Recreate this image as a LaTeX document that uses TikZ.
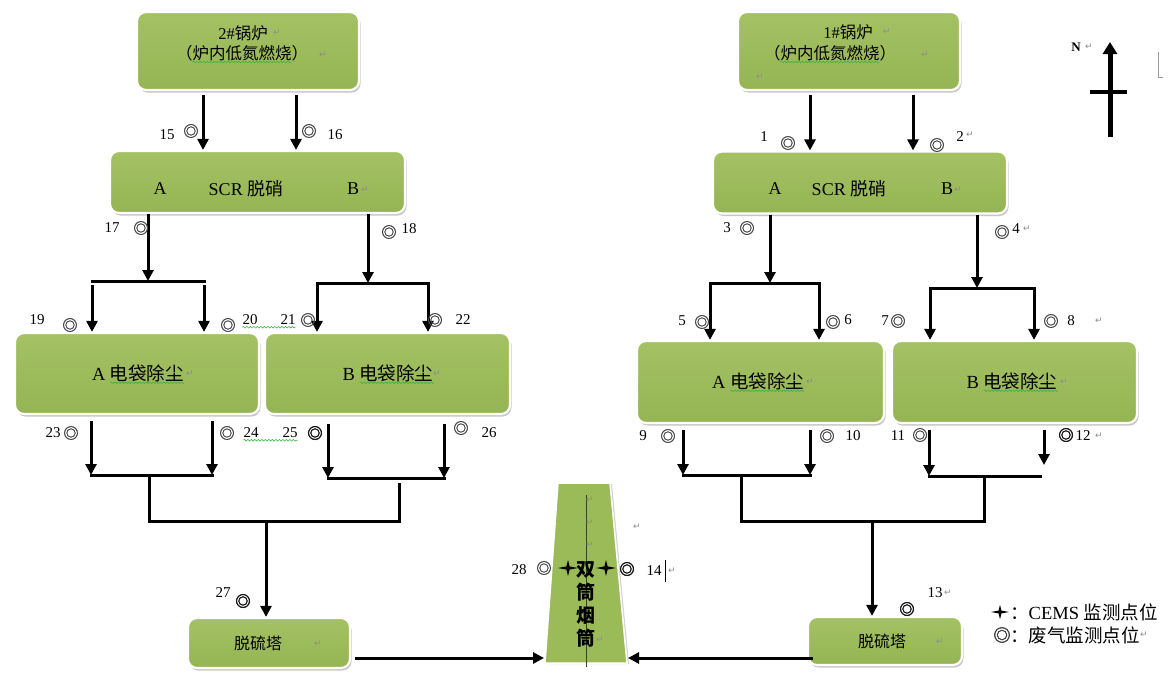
\documentclass[tikz,border=0pt]{standalone}
\usepackage{fontspec}
\setmainfont{Liberation Serif}
\newfontfamily\cjk{Noto Sans CJK SC}
\newfontfamily\monf[FakeBold=2.5]{Noto Sans CJK SC}
\newfontfamily\monfb[FakeBold=4]{Noto Sans CJK SC}
\newfontfamily\dv{DejaVu Sans}
\usetikzlibrary{arrows.meta,shadows,decorations.pathmorphing}
\definecolor{gtop}{HTML}{A4C264}
\definecolor{gbot}{HTML}{95B453}
\definecolor{gfill}{HTML}{9BBB59}
\definecolor{cline}{HTML}{2F4A14}
\definecolor{wavy}{HTML}{3CB43C}
\newcommand{\fs}[1]{\fontsize{#1}{#1}\selectfont}
\tikzset{
  gbox/.style={rectangle, rounded corners=9pt, top color=gtop, bottom color=gbot, draw=white, line width=2.2pt, drop shadow={shadow xshift=1.5pt, shadow yshift=-2.5pt, opacity=0.4, fill=black!55}, inner sep=0pt},
  txt/.style={inner sep=0pt, font=\fs{18}},
  num/.style={inner sep=0pt, font=\fs{15}},
  mon/.style={inner sep=0pt, font=\monf\fs{15}, text=black!70},
  monb/.style={inner sep=0pt, font=\monfb\fs{15}, text=black!90},
  ret/.style={inner sep=0pt, font=\dv\fs{9}, text=black!45},
  arr/.style={line width=3pt, -{Triangle[length=11pt,width=11pt]}},
  arrb/.style={line width=3pt, line join=miter, {Triangle[length=11pt,width=11pt]}-{Triangle[length=11pt,width=11pt]}},
  pipe/.style={line width=3pt, line join=miter},
  wav/.style={draw=wavy, line width=0.6pt, decorate, decoration={snake, amplitude=0.8pt, segment length=3.5pt}},
  pics/cems/.style={code={\fill[black] (-10,0) -- (-1.6,-1.6) -- (0,-8) -- (1.6,-1.6) -- (10,0) -- (1.6,1.6) -- (0,8) -- (-1.6,1.6) -- cycle;}},
}
\begin{document}
\begin{tikzpicture}[x=1pt,y=-1pt]
\fill[white] (0,0) rectangle (1173,675);
\useasboundingbox (0,0) rectangle (1173,675);

% ---------- boxes ----------
\node[gbox, minimum width=222, minimum height=78] (boil2) at (248,51) {};
\node[gbox, minimum width=222, minimum height=78] (boil1) at (849,51) {};
\node[gbox, minimum width=295, minimum height=62] (scr2) at (257.5,182) {};
\node[gbox, minimum width=294, minimum height=62] (scr1) at (860,182.5) {};
\node[gbox, minimum width=244, minimum height=81] (fA2) at (137,373.5) {};
\node[gbox, minimum width=245, minimum height=81] (fB2) at (387.5,373.5) {};
\node[gbox, minimum width=247, minimum height=82] (fA1) at (760.5,382) {};
\node[gbox, minimum width=245, minimum height=82] (fB1) at (1014.5,382) {};
\node[gbox, minimum width=162, minimum height=50] (dsL) at (269,643) {};
\node[gbox, minimum width=154, minimum height=48] (dsR) at (885,641) {};

% ---------- box texts ----------
\node[txt, font=\fs{16.5}] (t2a) at (243,33) {2\#{\cjk 锅炉}};
\node[txt, font=\cjk\fs{16.5}] (t2b) at (242,53) {（炉内低氮燃烧）};
\node[txt, font=\fs{16.5}] (t1a) at (848,32) {1\#{\cjk 锅炉}};
\node[txt, font=\cjk\fs{16.5}] (t1b) at (830,53) {（炉内低氮燃烧）};
\node[txt] (s2A) at (160,189) {A};
\node[txt] (s2S) at (246,189) {SCR {\cjk 脱硝}};
\node[txt] (s2B) at (353,189) {B};
\node[txt] (s1A) at (775,189) {A};
\node[txt] (s1S) at (849,189) {SCR {\cjk 脱硝}};
\node[txt] (s1B) at (947,189) {B};
\node[txt, font=\fs{18.5}] (fa2t) at (138,373) {A {\cjk 电袋除尘}};
\node[txt, font=\fs{18.5}] (fb2t) at (388,373) {B {\cjk 电袋除尘}};
\node[txt, font=\fs{18.5}] (fa1t) at (758,381) {A {\cjk 电袋除尘}};
\node[txt, font=\fs{18.5}] (fb1t) at (1012,381) {B {\cjk 电袋除尘}};
\node[txt, font=\cjk\fs{16}] (dsLt) at (258,643) {脱硫塔};
\node[txt, font=\cjk\fs{16}] (dsRt) at (882,641) {脱硫塔};

% wavy spell-check underlines
\draw[wav] ([xshift=16.5pt,yshift=-1pt]t2b.south west) -- ([xshift=-16.5pt,yshift=-1pt]t2b.south east);
\draw[wav] ([xshift=16.5pt,yshift=-1pt]t1b.south west) -- ([xshift=-16.5pt,yshift=-1pt]t1b.south east);
\draw[wav] ([xshift=-74pt,yshift=-1pt]fa2t.south east) -- ([yshift=-1pt]fa2t.south east);
\draw[wav] ([xshift=-74pt,yshift=-1pt]fb2t.south east) -- ([yshift=-1pt]fb2t.south east);
\draw[wav] ([xshift=-74pt,yshift=-1pt]fa1t.south east) -- ([yshift=-1pt]fa1t.south east);
\draw[wav] ([xshift=-74pt,yshift=-1pt]fb1t.south east) -- ([yshift=-1pt]fb1t.south east);

% ---------- chimney ----------
\fill[gfill, draw=white, line width=1.5pt, drop shadow={shadow xshift=2pt, shadow yshift=-1pt, opacity=0.35, fill=black!50}] (558,483) -- (610,483) -- (627,663) -- (545,663) -- cycle;
\draw[cline, line width=1pt] (586,495) -- (586,667);
\node[inner sep=0pt, align=center, font=\cjk\bfseries\fontsize{19}{23}\selectfont] (chim) at (586,604) {双\\筒\\烟\\筒};
\pic at (568,568) {cems};
\pic at (606,568) {cems};

% ---------- connectors: top ----------
\coordinate (c203) at (203,0); \coordinate (c296) at (296,0);
\coordinate (c810) at (810,0); \coordinate (c913) at (913,0);
\draw[arr, shorten <=4pt] (boil2.south -| c203) -- (scr2.north -| c203);
\draw[arr, shorten <=4pt] (boil2.south -| c296) -- (scr2.north -| c296);
\draw[arr, shorten <=4pt] (boil1.south -| c810) -- (scr1.north -| c810);
\draw[arr, shorten <=4pt] (boil1.south -| c913) -- (scr1.north -| c913);

% left SCR to filters
\coordinate (k148) at (148,281); \coordinate (k92) at (92,281); \coordinate (k204) at (204,281);
\draw[arr] (scr2.south -| k148) -- (k148);
\draw[pipe, line cap=rect] (k92) -- (k204);
\draw[arr, shorten <=4pt] (k92) -- (fA2.north -| k92);
\draw[arr, shorten <=4pt] (k204) -- (fA2.north -| k204);
\coordinate (k368) at (368,283); \coordinate (k317) at (317,283); \coordinate (k428) at (428,283);
\draw[arr] (scr2.south -| k368) -- (k368);
\draw[arrb] (fB2.north -| k317) -- (k317) -- (k428) -- (fB2.north -| k428);

% right SCR to filters
\coordinate (k770) at (770,283); \coordinate (k710) at (710,283); \coordinate (k819) at (819,283);
\draw[arr] (scr1.south -| k770) -- (k770);
\draw[arrb] (fA1.north -| k710) -- (k710) -- (k819) -- (fA1.north -| k819);
\coordinate (k977) at (977,288); \coordinate (k930) at (930,288); \coordinate (k1034) at (1034,288);
\draw[arr] (scr1.south -| k977) -- (k977);
\draw[arrb] (fB1.north -| k930) -- (k930) -- (k1034) -- (fB1.north -| k1034);

% bottom left
\coordinate (q90) at (91,475); \coordinate (q212) at (212,475);
\draw[arr, shorten <=6pt] (fA2.south -| q90) -- (q90);
\draw[arr, shorten <=6pt] (fA2.south -| q212) -- (q212);
\draw[pipe, line cap=rect] (q90) -- (q212);
\coordinate (q328) at (328,478); \coordinate (q444) at (444,478);
\draw[arr, shorten <=9pt] (fB2.south -| q328) -- (q328);
\draw[arr, shorten <=9pt] (fB2.south -| q444) -- (q444);
\draw[pipe, line cap=rect] (q328) -- (q444);
\coordinate (u149) at (149,475); \coordinate (v149) at (149,521);
\coordinate (v399) at (399,521); \coordinate (u399) at (399,483);
\draw[pipe] (u149) -- (v149) -- (v399) -- (u399);
\coordinate (v266) at (266,521);
\draw[arr] (v266) -- (dsL.north -| v266);

% bottom right
\coordinate (q683) at (683,475); \coordinate (q810) at (810,475);
\draw[arr, shorten <=6pt] (fA1.south -| q683) -- (q683);
\draw[arr, shorten <=6pt] (fA1.south -| q810) -- (q810);
\draw[pipe, line cap=rect] (q683) -- (q810);
\coordinate (q929) at (929,476); \coordinate (q1040) at (1040,476); \coordinate (q1044) at (1044,465);
\draw[arr, shorten <=6pt] (fB1.south -| q929) -- (q929);
\draw[arr, shorten <=6pt] (fB1.south -| q1044) -- (q1044);
\draw[pipe, line cap=rect] (q929) -- (q1040);
\coordinate (u741) at (741,475); \coordinate (v741) at (741,521);
\coordinate (v984) at (984,521); \coordinate (u984) at (984,476);
\draw[pipe] (u741) -- (v741) -- (v984) -- (u984);
\coordinate (v872) at (872,521);
\draw[arr] (v872) -- (dsR.north -| v872);

% into chimney
\coordinate (chimL) at (544,658); \coordinate (chimR) at (628,658);
\draw[arr, shorten <=4pt] (dsL.east |- chimL) -- (chimL);
\draw[arr, shorten <=-6pt] (dsR.west |- chimR) -- (chimR);

% ---------- monitoring labels ----------
\node[num] (n15) at (167,135) {15}; \node[mon] (m15) at (191,131) {◎};
\node[mon] (m16) at (309,131) {◎}; \node[num] (n16) at (335,135) {16};
\node[num] (n17) at (112,228) {17}; \node[mon] (m17) at (141,228) {◎};
\node[mon] (m18) at (389,232) {◎}; \node[num] (n18) at (409,229) {18};
\node[num] (n19) at (37,320) {19}; \node[mon] (m19) at (70,325) {◎};
\node[mon] (m20) at (228,325) {◎}; \node[num] (n20) at (250,320) {20};
\node[num] (n21) at (288,320) {21}; \node[mon] (m21) at (308,320) {◎};
\node[mon] (m22) at (435,320) {◎}; \node[num] (n22) at (463,320) {22};
\node[num] (n23) at (53,433) {23}; \node[mon] (m23) at (71,433) {◎};
\node[mon] (m24) at (227,433) {◎}; \node[num] (n24) at (251,433) {24};
\node[num] (n25) at (290,433) {25}; \node[monb] (m25) at (315,433) {◎};
\node[mon] (m26) at (461,428) {◎}; \node[num] (n26) at (489,433) {26};
\node[num] (n27) at (223,593) {27}; \node[monb] (m27) at (243,601) {◎};
\node[num] (n28) at (519,570) {28}; \node[mon] (m28) at (544,568) {◎};
\node[monb] (m14) at (627,569) {◎}; \node[num] (n14) at (654,571) {14};
\draw[wav] ([yshift=-2pt]n20.south west) -- ([yshift=-2pt]n21.south east);
\draw[wav] ([yshift=-2pt]n24.south west) -- ([yshift=-2pt]n25.south east);

\node[num] (n1) at (764,137) {1}; \node[mon] (m1) at (788,143) {◎};
\node[mon] (m2) at (937,145) {◎}; \node[num] (n2) at (960,137) {2};
\node[num] (n3) at (727,228) {3}; \node[mon] (m3) at (747,228) {◎};
\node[mon] (m4) at (1002,232) {◎}; \node[num] (n4) at (1016,229) {4};
\node[num] (n5) at (682,321) {5}; \node[mon] (m5) at (702,322) {◎};
\node[mon] (m6) at (833,322) {◎}; \node[num] (n6) at (848,320) {6};
\node[num] (n7) at (885,321) {7}; \node[mon] (m7) at (898,321) {◎};
\node[mon] (m8) at (1051,321) {◎}; \node[num] (n8) at (1071,321) {8};
\node[num] (n9) at (643,436) {9}; \node[mon] (m9) at (668,436) {◎};
\node[mon] (m10) at (827,436) {◎}; \node[num] (n10) at (853,436) {10};
\node[num] (n11) at (898,436) {11}; \node[mon] (m11) at (920,435) {◎};
\node[monb] (m12) at (1066,435) {◎}; \node[num] (n12) at (1083,436) {12};
\node[num] (n13) at (935,593) {13}; \node[monb] (m13) at (907,609) {◎};

% ---------- paragraph marks ----------
\node[ret] at (277,33) {↵}; \node[ret] at (323,55) {↵};
\node[ret] at (887,32) {↵}; \node[ret] at (925,55) {↵}; \node[ret] at (760,77) {↵};
\node[ret] at (365,190) {↵}; \node[ret] at (958,190) {↵};
\node[ret] at (190,374) {↵}; \node[ret] at (437,374) {↵};
\node[ret] at (810,382) {↵}; \node[ret] at (1064,382) {↵};
\node[ret] at (318,644) {↵}; \node[ret] at (940,642) {↵};
\node[ret] at (970,135) {↵}; \node[ret] at (1027,229) {↵};
\node[ret] at (1099,321) {↵}; \node[ret] at (1099,436) {↵};
\node[ret] at (948,593) {↵}; \node[ret] at (672,571) {↵};
\node[ret] at (590,500) {↵}; \node[ret] at (590,523) {↵}; \node[ret] at (590,545) {↵};
\node[ret] at (637,527) {↵}; \node[ret] at (600,640) {↵};
\draw[black, line width=0.8pt] (665,560) -- (665,582);

% ---------- north arrow ----------
\coordinate (nS) at (1110,137); \coordinate (nN) at (1110,42);
\draw[line width=5pt, -{Triangle[length=12pt,width=14pt]}] (nS) -- (nN);
\coordinate (nW) at (1090,92); \coordinate (nE) at (1127,92);
\draw[line width=4pt] (nW) -- (nE);
\node[num, font=\bfseries\fs{13}] (nlab) at (1076,47) {N};
\node[ret] at (1089,47) {↵};
\draw[black!40, line width=0.6pt] (1158,52) -- (1158,77) -- (1163,77);

% ---------- legend ----------
\pic[scale=0.9] at (1000,612) {cems};
\node[anchor=west, inner sep=0pt, font=\fs{18.5}] (leg1) at (1010,612) {{\cjk ：}CEMS {\cjk 监测点位}};
\node[mon, font=\monf\fs{17}, text=black!75] (legm) at (1002,635) {◎};
\node[anchor=west, inner sep=0pt, font=\cjk\fs{18.5}] (leg2) at (1010,635) {：废气监测点位};
\node[ret, anchor=west] at (leg2.east) {↵};
\end{tikzpicture}
\end{document}
